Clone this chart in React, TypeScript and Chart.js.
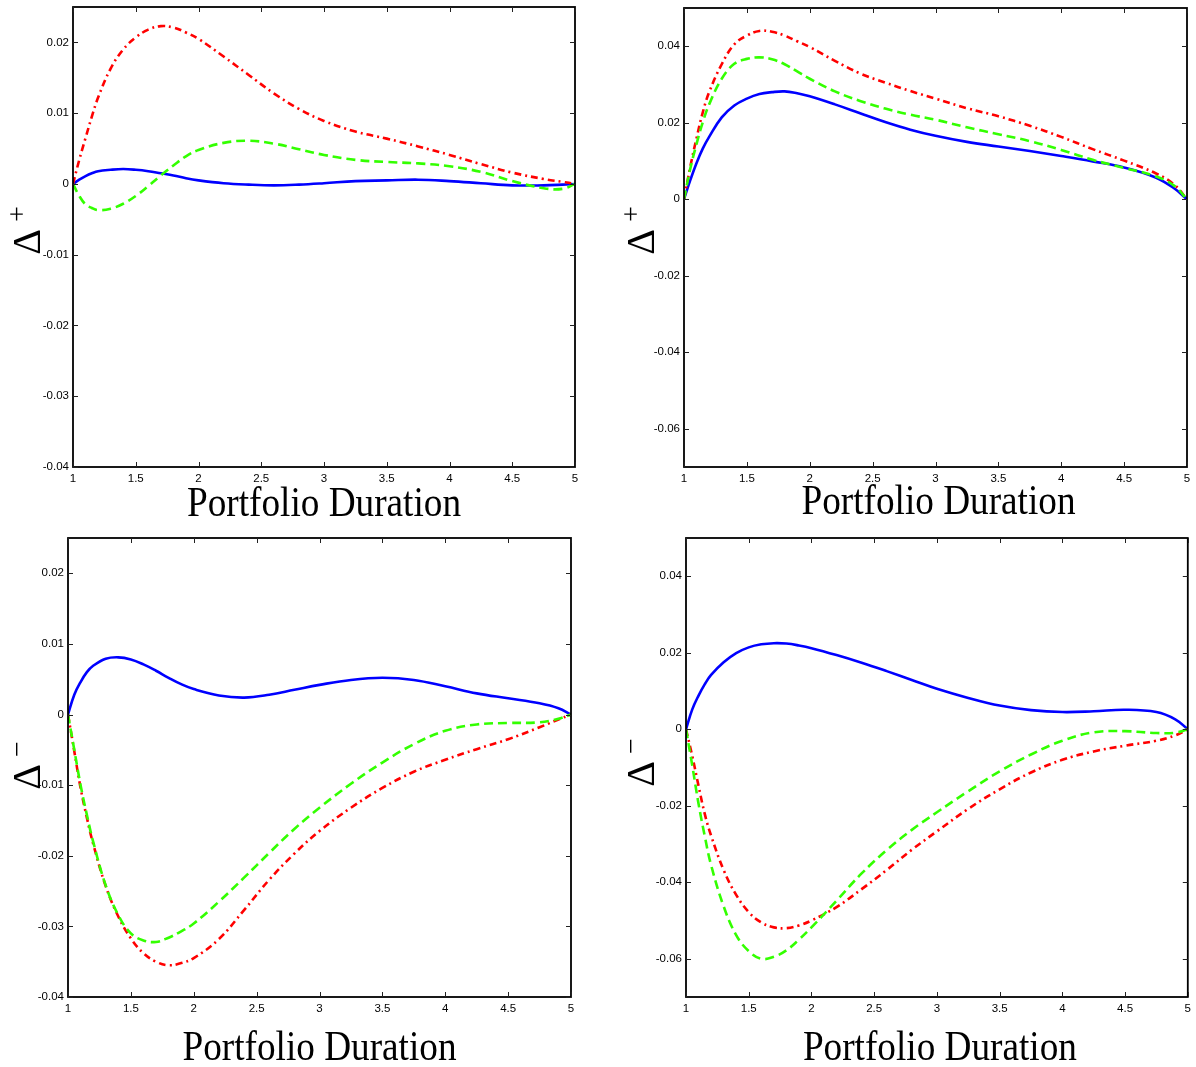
import React, { useEffect, useRef } from "react";
import { Chart, registerables } from "chart.js";

Chart.register(...registerables);

// ---------- data ----------
const durations = [1, 1.05, 1.1, 1.15, 1.2, 1.3, 1.4, 1.5, 1.6, 1.7, 1.8, 1.9, 2.0, 2.2, 2.4, 2.6, 2.8, 3.0, 3.25, 3.5, 3.75, 4.0, 4.25, 4.5, 4.75, 4.9, 5];

// Top-left: Delta+ (panel A)
const plusA_blue = [0, 0.0006, 0.0011, 0.0015, 0.0018, 0.002, 0.0021, 0.002, 0.0018, 0.0015, 0.0012, 0.0008, 0.0005, 0.0001, -0.0001, -0.0002, -0.0001, 0.0001, 0.0004, 0.0005, 0.0006, 0.0004, 0.0001, -0.0002, -0.0002, -0.0001, 0];
const plusA_green = [0, -0.0017, -0.0029, -0.0034, -0.0037, -0.0035, -0.0028, -0.0017, -0.0003, 0.0012, 0.0026, 0.0039, 0.0048, 0.0058, 0.0061, 0.0057, 0.0049, 0.0041, 0.0034, 0.0031, 0.0029, 0.0025, 0.0017, 0.0004, -0.0006, -0.0007, 0];
const plusA_red = [0, 0.0034, 0.0065, 0.0095, 0.0122, 0.0163, 0.019, 0.0207, 0.0218, 0.0223, 0.0221, 0.0214, 0.0205, 0.018, 0.0154, 0.0128, 0.0106, 0.0089, 0.0074, 0.0064, 0.0053, 0.0041, 0.0028, 0.0016, 0.0007, 0.0003, 0];

// Top-right: Delta+ (panel B)
const plusB_blue = [0, 0.005, 0.0095, 0.0133, 0.0163, 0.0214, 0.0245, 0.0263, 0.0275, 0.028, 0.0282, 0.0277, 0.0269, 0.0248, 0.0225, 0.0202, 0.0182, 0.0166, 0.015, 0.0138, 0.0126, 0.0113, 0.0099, 0.0083, 0.0057, 0.0028, 0];
const plusB_green = [0, 0.008, 0.0145, 0.0202, 0.0248, 0.0315, 0.0354, 0.0367, 0.0371, 0.0366, 0.0353, 0.0334, 0.0315, 0.0282, 0.0257, 0.0237, 0.0221, 0.0208, 0.0188, 0.017, 0.0152, 0.0129, 0.0103, 0.0082, 0.006, 0.0035, 0];
const plusB_red = [0, 0.0085, 0.016, 0.0228, 0.028, 0.0353, 0.0405, 0.0428, 0.044, 0.0438, 0.0428, 0.0413, 0.0398, 0.0362, 0.0329, 0.0305, 0.0283, 0.0263, 0.0238, 0.0217, 0.0192, 0.0163, 0.0131, 0.0101, 0.0068, 0.0038, 0];

// Bottom-left: Delta- (panel C)
const minusC_blue = [0, 0.0028, 0.0046, 0.006, 0.0069, 0.0079, 0.0081, 0.0078, 0.0071, 0.0062, 0.0052, 0.0043, 0.0036, 0.0027, 0.0024, 0.0028, 0.0035, 0.0042, 0.0049, 0.0052, 0.0049, 0.004, 0.003, 0.0023, 0.0016, 0.0009, 0];
const minusC_green = [0, -0.005, -0.01, -0.0142, -0.018, -0.0242, -0.0284, -0.031, -0.032, -0.0322, -0.0316, -0.0307, -0.0296, -0.0265, -0.0231, -0.0196, -0.0162, -0.0132, -0.0098, -0.0068, -0.0042, -0.0023, -0.0014, -0.0012, -0.0011, -0.0006, 0];
const minusC_red = [0, -0.0052, -0.0104, -0.0146, -0.0183, -0.0243, -0.0286, -0.0317, -0.0338, -0.035, -0.0355, -0.0352, -0.0345, -0.0318, -0.0277, -0.0234, -0.0197, -0.0165, -0.0132, -0.0104, -0.0081, -0.0064, -0.0049, -0.0035, -0.0018, -0.0007, 0];

// Bottom-right: Delta- (panel D)
const minusD_blue = [0, 0.0052, 0.0088, 0.0118, 0.0142, 0.0175, 0.0199, 0.0214, 0.0222, 0.0225, 0.0224, 0.0219, 0.0212, 0.0194, 0.0174, 0.0152, 0.0129, 0.0106, 0.0082, 0.0062, 0.005, 0.0045, 0.0047, 0.0051, 0.0045, 0.0026, 0];
const minusD_green = [0, -0.0095, -0.0195, -0.028, -0.0355, -0.0463, -0.0538, -0.058, -0.06, -0.0595, -0.0578, -0.055, -0.0518, -0.0448, -0.0377, -0.0316, -0.0263, -0.0217, -0.0162, -0.011, -0.0066, -0.003, -0.0008, -0.0005, -0.001, -0.0009, 0];
const minusD_red = [0, -0.007, -0.0148, -0.0222, -0.0278, -0.0368, -0.0433, -0.0478, -0.0505, -0.0518, -0.052, -0.0513, -0.05, -0.0465, -0.0418, -0.0368, -0.0315, -0.0267, -0.0208, -0.0157, -0.0113, -0.008, -0.0058, -0.0043, -0.003, -0.0016, 0];

// ticks
const xTicks = [1, 1.5, 2, 2.5, 3, 3.5, 4, 4.5, 5];
const xTickLabels = ["1", "1.5", "2", "2.5", "3", "3.5", "4", "4.5", "5"];
const yTicksFine = [0.02, 0.01, 0, -0.01, -0.02, -0.03, -0.04];
const yTickLabelsFine = ["0.02", "0.01", "0", "-0.01", "-0.02", "-0.03", "-0.04"];
const yTicksCoarse = [0.04, 0.02, 0, -0.02, -0.04, -0.06];
const yTickLabelsCoarse = ["0.04", "0.02", "0", "-0.02", "-0.04", "-0.06"];
const xTitle = "Portfolio Duration";
const deltaSymbol = "Δ";
const supPlus = "+";
const supMinus = "−";

// ---------- styles ----------
const BLUE = "#0000ff";
const GREEN = "#33ff00";
const RED = "#ff0000";
const TICK_FONT = "'Liberation Sans Narrow', 'Liberation Sans', Arial, sans-serif";
const SERIF = "'Liberation Serif', 'DejaVu Serif', serif";

type Panel = {
  canvas: { left: number; top: number; width: number; height: number };
  area: { left: number; top: number; right: number; bottom: number };
  yMin: number;
  yMax: number;
  yTicks: number[];
  yLabels: string[];
  blue: number[];
  green: number[];
  red: number[];
  sup: string;
  delta: { x: number; y: number };
  titleBaseline: number;
};

const panels: Panel[] = [
  {
    canvas: { left: 0, top: -10, width: 598, height: 540 },
    area: { left: 73, top: 7, right: 575, bottom: 467 },
    yMin: -0.04, yMax: 0.025, yTicks: yTicksFine, yLabels: yTickLabelsFine,
    blue: plusA_blue, green: plusA_green, red: plusA_red,
    sup: supPlus, delta: { x: 40, y: 242 }, titleBaseline: 516,
  },
  {
    canvas: { left: 598, top: -10, width: 598, height: 540 },
    area: { left: 684, top: 8, right: 1187, bottom: 467 },
    yMin: -0.07, yMax: 0.05, yTicks: yTicksCoarse, yLabels: yTickLabelsCoarse,
    blue: plusB_blue, green: plusB_green, red: plusB_red,
    sup: supPlus, delta: { x: 654, y: 242 }, titleBaseline: 514,
  },
  {
    canvas: { left: 0, top: 520, width: 598, height: 547 },
    area: { left: 68, top: 538, right: 571, bottom: 997 },
    yMin: -0.04, yMax: 0.025, yTicks: yTicksFine, yLabels: yTickLabelsFine,
    blue: minusC_blue, green: minusC_green, red: minusC_red,
    sup: supMinus, delta: { x: 40, y: 777 }, titleBaseline: 1060,
  },
  {
    canvas: { left: 598, top: 520, width: 598, height: 547 },
    area: { left: 686, top: 538, right: 1189, bottom: 997 },
    yMin: -0.07, yMax: 0.05, yTicks: yTicksCoarse, yLabels: yTickLabelsCoarse,
    blue: minusD_blue, green: minusD_green, red: minusD_red,
    sup: supMinus, delta: { x: 654, y: 774 }, titleBaseline: 1060,
  },
];

const framePlugin = {
  id: "frame",
  afterDatasetsDraw(chart: any, _args: any, opts: any) {
    const { ctx, chartArea: a, scales } = chart;
    ctx.save();
    // box
    ctx.strokeStyle = "#000";
    ctx.lineWidth = 1.8;
    ctx.strokeRect(a.left, a.top, a.right - a.left, a.bottom - a.top);
    // inward ticks on all sides
    const tk = 5;
    ctx.lineWidth = 1;
    ctx.strokeStyle = "#222";
    ctx.beginPath();
    for (const v of xTicks) {
      const px = Math.round(scales.x.getPixelForValue(v)) + 0.5;
      ctx.moveTo(px, a.bottom);
      ctx.lineTo(px, a.bottom - tk);
      ctx.moveTo(px, a.top);
      ctx.lineTo(px, a.top + tk);
    }
    for (const v of opts.yTicks) {
      const py = Math.round(scales.y.getPixelForValue(v)) + 0.5;
      ctx.moveTo(a.left, py);
      ctx.lineTo(a.left + tk, py);
      ctx.moveTo(a.right, py);
      ctx.lineTo(a.right - tk, py);
    }
    ctx.stroke();

    // x title (serif, slightly condensed like the original)
    ctx.fillStyle = "#000";
    ctx.font = `42px ${SERIF}`;
    ctx.textAlign = "center";
    ctx.textBaseline = "alphabetic";
    const w = ctx.measureText(xTitle).width;
    const sx = 274 / w;
    ctx.save();
    ctx.translate((a.left + a.right) / 2 + opts.titleShift, opts.titleBaseline);
    ctx.scale(sx, 1);
    ctx.fillText(xTitle, 0, 0);
    ctx.restore();

    // y title: Delta with superscript, rotated
    ctx.save();
    ctx.translate(opts.delta.x, opts.delta.y);
    ctx.rotate(-Math.PI / 2);
    ctx.font = `40px ${SERIF}`;
    ctx.textAlign = "center";
    ctx.fillText(deltaSymbol, 0, 0);
    ctx.font = `28px ${SERIF}`;
    ctx.fillText(opts.sup, 28, -14);
    ctx.restore();

    ctx.restore();
  },
};

function PanelChart({ p }: { p: Panel }) {
  const ref = useRef<HTMLCanvasElement | null>(null);
  useEffect(() => {
    if (!ref.current) return;
    const yAxisWidth = p.area.left - p.canvas.left;
    const xAxisHeight = p.canvas.top + p.canvas.height - p.area.bottom;
    const padTop = p.area.top - p.canvas.top;
    const padRight = p.canvas.left + p.canvas.width - p.area.right;
    const mk = (vals: number[]) => durations.map((x, i) => ({ x, y: vals[i] }));
    const common = {
      pointRadius: 0,
      borderWidth: 2.6,
      fill: false,
      tension: 0.4,
    };
    const chart = new Chart(ref.current, {
      type: "line",
      data: {
        datasets: [
          { ...common, label: "green", data: mk(p.green), borderColor: GREEN, borderDash: [9, 5] },
          { ...common, label: "red", data: mk(p.red), borderColor: RED, borderDash: [7, 4, 2, 4] },
          { ...common, label: "blue", data: mk(p.blue), borderColor: BLUE },
        ],
      },
      options: {
        animation: false,
        responsive: false,
        maintainAspectRatio: false,
        devicePixelRatio: 1,
        layout: { padding: { top: padTop, right: padRight, left: 0, bottom: 0 } },
        plugins: {
          legend: { display: false },
          tooltip: { enabled: false },
          frame: {
            yTicks: p.yTicks,
            sup: p.sup,
            delta: { x: p.delta.x - p.canvas.left, y: p.delta.y - p.canvas.top },
            titleBaseline: p.titleBaseline - p.canvas.top,
            titleShift: p.canvas.left > 0 ? 3 : 0,
          },
        } as any,
        scales: {
          x: {
            type: "linear",
            min: 1,
            max: 5,
            grid: { display: false, drawTicks: false },
            border: { display: false },
            afterBuildTicks: (s: any) => {
              s.ticks = xTicks.map((v) => ({ value: v }));
            },
            afterFit: (s: any) => {
              s.height = xAxisHeight;
            },
            ticks: {
              autoSkip: false,
              maxRotation: 0,
              minRotation: 0,
              padding: 5,
              color: "#000",
              font: { family: TICK_FONT, size: 11.5 },
              callback: (v: any) => {
                const i = xTicks.findIndex((t) => Math.abs(t - Number(v)) < 1e-9);
                return i >= 0 ? xTickLabels[i] : "";
              },
            },
          },
          y: {
            type: "linear",
            min: p.yMin,
            max: p.yMax,
            grid: { display: false, drawTicks: false },
            border: { display: false },
            afterBuildTicks: (s: any) => {
              s.ticks = p.yTicks.map((v) => ({ value: v }));
            },
            afterFit: (s: any) => {
              s.width = yAxisWidth;
            },
            ticks: {
              autoSkip: false,
              padding: 4,
              color: "#000",
              font: { family: TICK_FONT, size: 11.5 },
              callback: (v: any) => {
                const i = p.yTicks.findIndex((t) => Math.abs(t - Number(v)) < 1e-9);
                return i >= 0 ? p.yLabels[i] : "";
              },
            },
          },
        },
      },
      plugins: [framePlugin as any],
    });
    return () => chart.destroy();
  }, [p]);
  return (
    <canvas
      ref={ref}
      width={p.canvas.width}
      height={p.canvas.height}
      style={{
        position: "absolute",
        left: p.canvas.left,
        top: p.canvas.top,
        width: p.canvas.width,
        height: p.canvas.height,
      }}
    />
  );
}

export default function App() {
  return (
    <div
      style={{
        position: "absolute",
        left: 0,
        top: 0,
        width: 1196,
        height: 1067,
        background: "#fff",
        overflow: "hidden",
      }}
    >
      {panels.map((p, i) => (
        <PanelChart key={i} p={p} />
      ))}
    </div>
  );
}
